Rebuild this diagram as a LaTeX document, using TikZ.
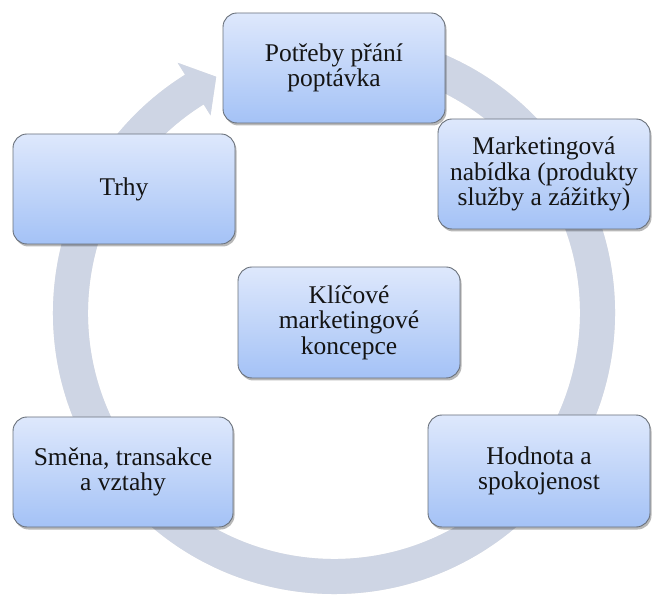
\documentclass[tikz,border=0pt]{standalone}
\usepackage{fontspec}
\setmainfont{Liberation Serif}
\usetikzlibrary{shadows,calc}

\definecolor{ringfill}{RGB}{206,213,228}
\definecolor{boxtop}{RGB}{222,232,252}
\definecolor{boxbot}{RGB}{164,194,246}
\definecolor{boxline}{RGB}{105,112,122}

\tikzset{
  concept/.style={
    draw=boxline, line width=0.9pt, rounded corners=14pt,
    top color=boxtop, bottom color=boxbot,
    inner sep=0pt, align=center, text=black!92,
    font=\fontsize{25.5}{25.5}\selectfont,
    drop shadow={shadow xshift=1.5pt, shadow yshift=-2.5pt, opacity=0.28, fill=black}
  },
  ringshadow/.style={fill=black, opacity=0.10},
}

\begin{document}
\begin{tikzpicture}[x=1pt,y=1pt]
\useasboundingbox (0,0) rectangle (652,594);

% centre of the cycle arrow
\coordinate (c) at (334,281);

% soft shadow under the cycle arrow
\begin{scope}[shift={(1,-2.5)}]
\fill[ringshadow] ($(c)+(85:281)$) arc[start angle=85, end angle=-238, radius=281]
  -- ($(c)+(-238:295)$) -- ($(c)+(-243.5:264)$) -- ($(c)+(-238:233)$)
  -- ($(c)+(-238:246)$) arc[start angle=-238, end angle=85, radius=246] -- cycle;
\end{scope}

% circular arrow running clockwise round the concepts
\fill[ringfill] ($(c)+(85:281)$) arc[start angle=85, end angle=-238, radius=281]
  -- ($(c)+(-238:295)$) -- ($(c)+(-243.5:264)$) -- ($(c)+(-238:233)$)
  -- ($(c)+(-238:246)$) arc[start angle=-238, end angle=85, radius=246] -- cycle;

% concept boxes
\node[concept, minimum width=222pt, minimum height=110pt] (needs) at (334,526) {Potřeby přání\\poptávka};
\node[concept, minimum width=212pt, minimum height=110pt] (offer) at (544,420) {Marketingová\\nabídka (produkty\\služby a zážitky)};
\node[concept, minimum width=222pt, minimum height=110pt] (markets) at (124,405) {Trhy};
\node[concept, minimum width=222pt, minimum height=111pt] (core) at (349,271.5) {Klíčové\\marketingové\\koncepce};
\node[concept, minimum width=220pt, minimum height=110pt] (exchange) at (123,122) {Směna, transakce\\a vztahy};
\node[concept, minimum width=222pt, minimum height=112pt] (value) at (539,123) {Hodnota a\\spokojenost};
\end{tikzpicture}
\end{document}
